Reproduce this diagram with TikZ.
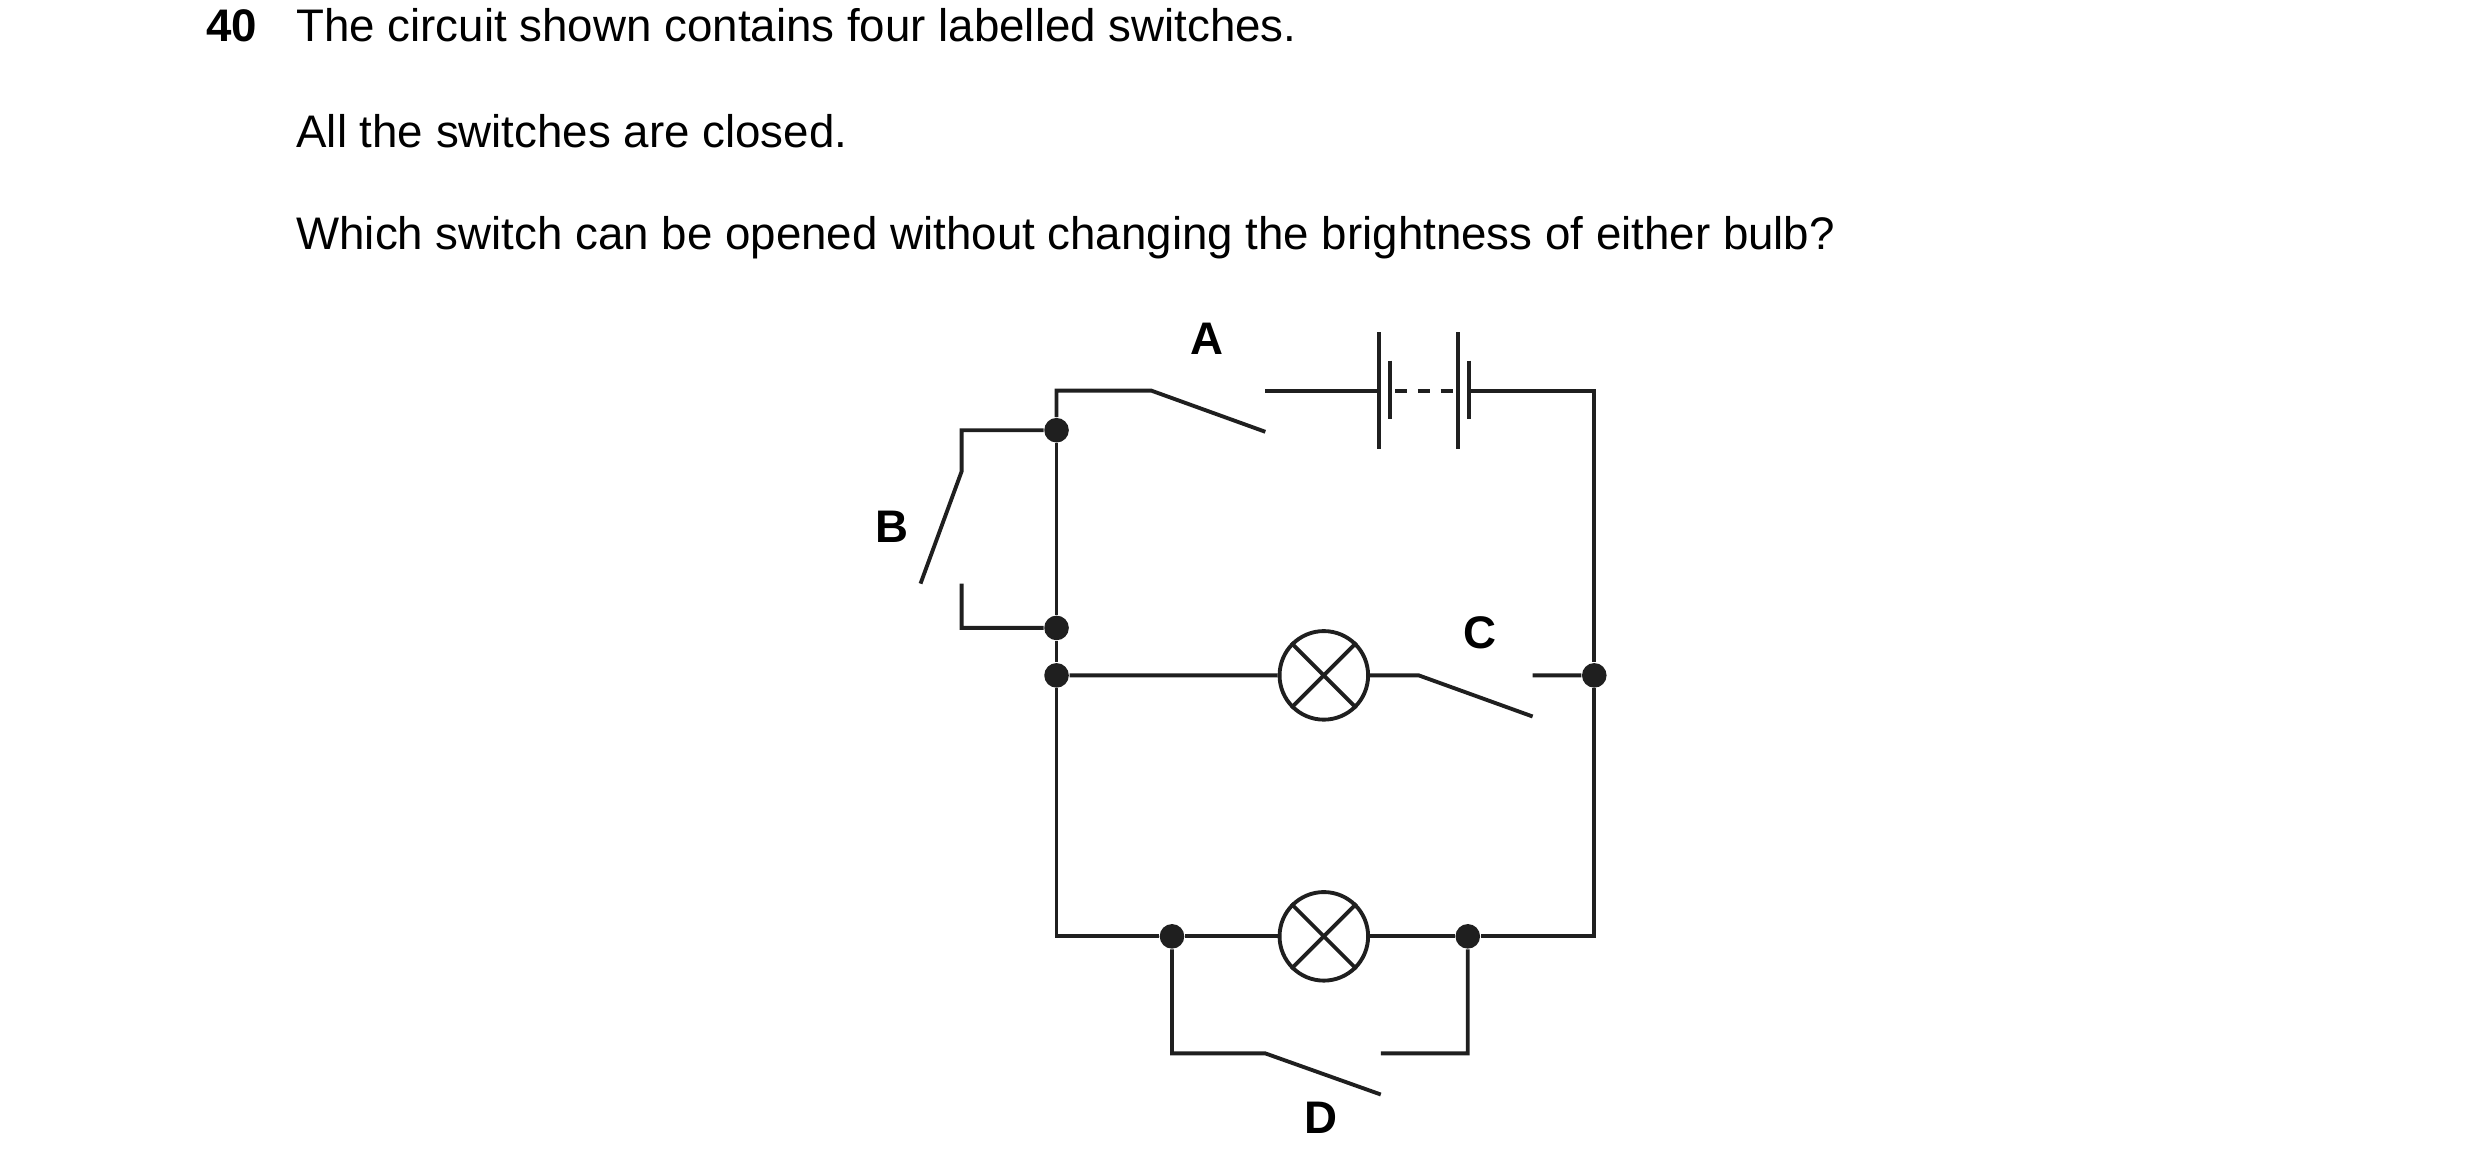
\documentclass[tikz,border=0pt]{standalone}
\usepackage{fontspec}
\setmainfont{Liberation Sans}
\begin{document}
\begin{tikzpicture}[x=0.015816cm,y=-0.015816cm,
  w/.style={line width=1.1pt,color=black!88},
  dot/.style={circle,fill=black!88,inner sep=0pt,minimum size=7pt},
  bulb/.style={circle,draw,w,inner sep=0pt,minimum size=0.886cm},
  lab/.style={font=\fontsize{13}{15}\selectfont\bfseries},
  txt/.style={font=\fontsize{13}{15}\selectfont,anchor=west,inner sep=0pt}]
\useasboundingbox (0,0) rectangle (1568,741.6);
\node[txt,font=\fontsize{13}{15}\selectfont\bfseries,anchor=east] (n40) at (163,16) {40};
\node[txt] (t1) at (187,16) {The circuit shown contains four labelled switches.};
\node[txt] (t2) at (187,83) {All the switches are closed.};
\node[txt] (t3) at (187,150) {Which switch can be opened without changing the brightness of either bulb?};
% nodes
\foreach \n/\x/\y in {j1/668/272,j2/668/397,j3/668/427,j4/1008/427,j5/741/592,j6/928/592}
  \node[dot] (\n) at (\x,\y) {};
\node[bulb] (L1) at (837,427) {};
\node[bulb] (L2) at (837,592) {};
\draw[w] (L1.north west) -- (L1.south east) (L1.north east) -- (L1.south west);
\draw[w] (L2.north west) -- (L2.south east) (L2.north east) -- (L2.south west);
\coordinate (tl) at (668,247); \coordinate (tr) at (1008,247);
\coordinate (bl) at (668,592); \coordinate (br) at (1008,592);
% wires
\draw[w] (j1) -- (tl) -- (728,247) -- (800,273);
\draw[w] (800,247) -- (872,247) (929,247) -- (tr) -- (j4) -- (br) -- (j6) -- (L2.east);
\draw[w] (872,210) -- (872,284) (879,228) -- (879,265) (922,210) -- (922,284) (929,228) -- (929,265);
\draw[w,dash pattern=on 3.5pt off 3pt] (882,247) -- (922,247);
\draw[w] (j1) -- (j2) -- (j3) -- (bl) -- (j5) -- (L2.west);
\draw[w] (j1) -- (608,272) -- (608,298) -- (582,369) (608,369) -- (608,397) -- (j2);
\draw[w] (j3) -- (L1.west) (L1.east) -- (897,427) -- (969,453) (969,427) -- (j4);
\draw[w] (j5) -- (741,666) -- (800,666) -- (873,692) (873,666) -- (928,666) -- (j6);
\node[lab] (A) at (763,214) {A};
\node[lab] (B) at (564,333) {B};
\node[lab] (C) at (936,400) {C};
\node[lab] (D) at (835,707) {D};
\end{tikzpicture}
\end{document}
